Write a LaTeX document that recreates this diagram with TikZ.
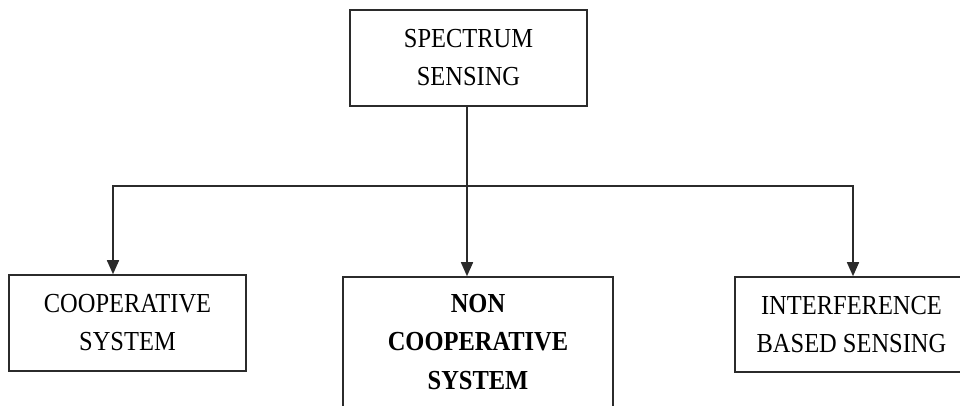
\documentclass[tikz,border=0pt]{standalone}
\usepackage{fontspec}
\setmainfont{Liberation Serif}[FakeStretch=0.89]
\usetikzlibrary{arrows.meta}
\definecolor{linegray}{HTML}{2B2B2B}
\tikzset{
  blockbox/.style={draw=linegray, line width=1.6pt, align=center, inner sep=0pt,
    font=\fontsize{27.5}{38}\selectfont, text=black},
  link/.style={draw=linegray, line width=1.6pt},
  arr/.style={link, -{Triangle[length=14pt, width=12pt]}}
}
\begin{document}
\begin{tikzpicture}[x=1pt, y=-1pt]
  \useasboundingbox (0,0) rectangle (960,405);
  \clip (0,0) rectangle (960,405);
  \fill[white] (0,0) rectangle (960,405);

  % blocks
  \node[blockbox, minimum width=237pt, minimum height=96pt] (spec) at (468.5,58)
    {SPECTRUM\\SENSING};
  \node[blockbox, minimum width=237pt, minimum height=96pt] (coop) at (127.5,323)
    {COOPERATIVE\\SYSTEM};
  \node[blockbox, minimum width=270pt, minimum height=130pt,
        font=\fontsize{27.5}{38.5}\selectfont\bfseries] (noncoop) at (478,342)
    {NON\\COOPERATIVE\\SYSTEM};
  \node[blockbox, minimum width=233pt, minimum height=95pt] (intf) at (851.5,324.5)
    {INTERFERENCE\\BASED SENSING};

  % branching point on the bus line
  \coordinate (hub) at (467,186);

  % connectors
  \draw[link] ([xshift=-1.5pt]spec.south) -- (hub);
  \draw[arr] (hub) -- (hub |- noncoop.north);
  \draw[arr] (hub) -| ([xshift=-14.5pt]coop.north);
  \draw[arr] (hub) -| ([xshift=1.5pt]intf.north);
\end{tikzpicture}
\end{document}
